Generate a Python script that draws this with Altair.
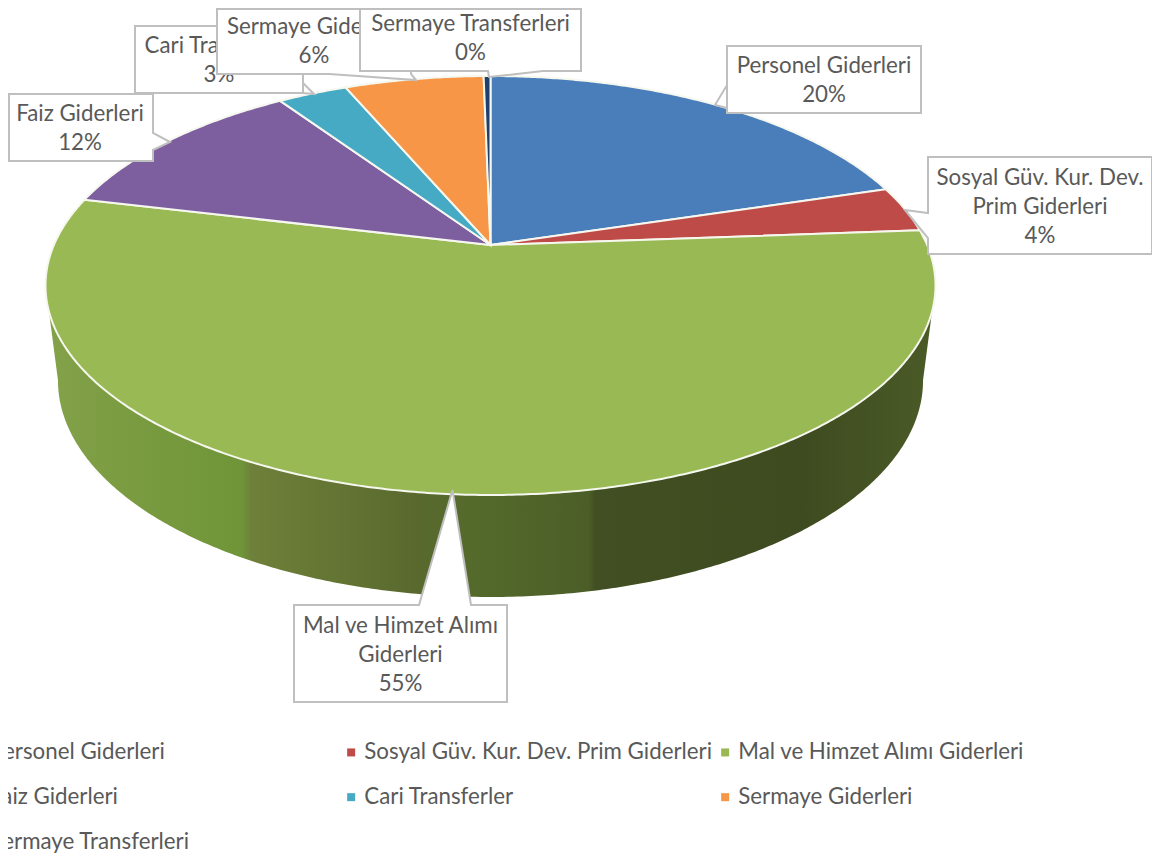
import math
import altair as alt

# ---- data ----
categories = ["Personel Giderleri", "Sosyal Güv. Kur. Dev. Prim Giderleri", "Mal ve Himzet Alımı Giderleri",
              "Faiz Giderleri", "Cari Transferler", "Sermaye Giderleri", "Sermaye Transferleri"]
shares = [20.3, 3.55, 55.0, 11.8, 3.05, 6.1, 0.3]
colors = ["#4a7ebb", "#be4b48", "#98b954", "#7d5fa0", "#46aac5", "#f79646", "#1f3f6d"]
label_lines = [["Personel Giderleri"], ["Sosyal Güv. Kur. Dev.", "Prim Giderleri"], ["Mal ve Himzet Alımı", "Giderleri"],
               ["Faiz Giderleri"], ["Cari Transferler"], ["Sermaye Giderleri"], ["Sermaye Transferleri"]]

# ---- layout (page pixels) ----
M = 8
W, H = 1144, 846
FONT = "Lato"
FSIZE = 22.3
APEX_X, APEX_Y, RADIUS, TILT, FORE = 490.5, 245.0, 436.6, 0.1933, 154.3
wall_stops = [(0.0, "#83a24a"), (0.08, "#7c9c42"), (0.22, "#6f9539"), (0.232, "#6e8039"), (0.42, "#59692e"),
              (0.48, "#546a2b"), (0.61, "#4c5e28"), (0.618, "#414f22"), (0.85, "#3e4b20"), (1.0, "#4b5b27")]
boxes = [
    (727, 46, 921, 113, [(727, 85), (715, 105), (727, 108)], "L"),
    (928, 157, 1152, 254, [(928, 238), (905, 210), (928, 213)], "L"),
    (294, 605, 507, 702, [(419, 605), (452.5, 490), (471, 605)], "T"),
    (7, 94, 153, 161, [(153, 133), (170, 142), (153, 150)], "R"),
    (135, 26, 303, 93, [(303, 83), (314, 94), (303, 93)], "B"),
    (217, 7, 411, 74, [(411, 74), (416, 80), (329, 74)], "B"),
    (360, 4, 581, 71, [(543, 71), (489, 77), (488, 71)], "B"),
]
draw_order = [0, 1, 2, 3, 4, 5, 6]


def rim(deg):
    t = math.radians(deg)
    u, v = math.sin(t), math.cos(t)
    w = 1 + TILT * v
    return APEX_X + RADIUS * u / w, (APEX_Y - FORE * v) / w


def base(deg):
    x, y = rim(deg)
    return APEX_X + (x - APEX_X) * 0.972, 380 + (y - 285) * 217 / 210


def px(p):
    return [p[0] - M, p[1] - M]


def poly(points, **props):
    ring = [px(p) for p in points]
    ring.append(ring[0])
    return {"type": "Feature", "properties": props, "geometry": {"type": "Polygon", "coordinates": [ring]}}


total = sum(shares)
edges = [0.0]
for s in shares:
    edges.append(edges[-1] + s / total * 360)


def arc(a, b):
    n = max(2, int((b - a) / 0.5) + 1)
    return [rim(a + (b - a) * i / n) for i in range(n + 1)]


slices = [poly([(APEX_X, APEX_Y)] + arc(edges[i], edges[i + 1]), name=categories[i]) for i in range(len(shares))]

front = [101.1 + i * 0.5 for i in range(0, 316)] + [258.9]
wall = [poly([rim(d) for d in front] + [base(d) for d in front[::-1]], name="wall")]

proj = alt.Projection(type="identity", scale=1, translate=[0, 0])

wall_layer = alt.Chart(alt.Data(values=wall)).mark_geoshape(
    fill=alt.LinearGradient(gradient="linear", x1=0, x2=1, y1=0, y2=0,
                            stops=[alt.GradientStop(offset=o, color=c) for o, c in wall_stops]),
    stroke=None).project(**proj.to_dict())

slice_layer = alt.Chart(alt.Data(values=slices)).mark_geoshape(stroke="#f6f7ee", strokeWidth=2).encode(
    color=alt.Color("properties.name:N",
                    scale=alt.Scale(domain=categories, range=colors),
                    sort=categories,
                    legend=alt.Legend(title=None, orient="none", legendX=-42, legendY=733, columns=3,
                                      direction="horizontal", gridAlign="all", columnPadding=1, rowPadding=22,
                                      symbolType="square", symbolSize=64, symbolStrokeWidth=0,
                                      labelFont=FONT, labelFontSize=FSIZE, labelColor="#595959", labelLimit=600,
                                      labelOffset=2))
).project(**proj.to_dict())

layers = [wall_layer, slice_layer]
for i in draw_order:
    x0, y0, x1, y1, tip, side = boxes[i]
    bx0, by0 = max(x0, 9), max(y0, 9)
    if side == "L":
        outline = [(bx0, by0), (x1, by0), (x1, y1), (bx0, y1)] + tip
    elif side == "T":
        outline = [(bx0, by0)] + tip + [(x1, by0), (x1, y1), (bx0, y1)]
    elif side == "R":
        outline = [(bx0, by0), (x1, by0)] + tip + [(x1, y1), (bx0, y1)]
    else:
        outline = [(bx0, by0), (x1, by0), (x1, y1)] + tip + [(bx0, y1)]
    layers.append(alt.Chart(alt.Data(values=[poly(outline, name="box")])).mark_geoshape(
        fill="white", stroke="#bfbfbf", strokeWidth=2).project(**proj.to_dict()))
    lines = label_lines[i] + [f"{round(shares[i])}%"]
    cy = (y0 + y1) / 2 - M + 1
    rows = [{"x": (x0 + x1) / 2 - M, "y": cy + (j - (len(lines) - 1) / 2) * 29, "t": t} for j, t in enumerate(lines)]
    layers.append(alt.Chart(alt.Data(values=rows)).mark_text(
        font=FONT, fontSize=FSIZE, color="#595959", align="center", baseline="middle").encode(
        x=alt.X("x:Q", scale=None, axis=None), y=alt.Y("y:Q", scale=None, axis=None), text="t:N"))

chart = alt.layer(*layers).properties(
    width=W, height=H, padding=0, background="white",
    autosize=alt.AutoSizeParams(type="none")
).configure_view(stroke=None)

chart.save("out.html", embed_options={"renderer": "svg", "actions": False})
